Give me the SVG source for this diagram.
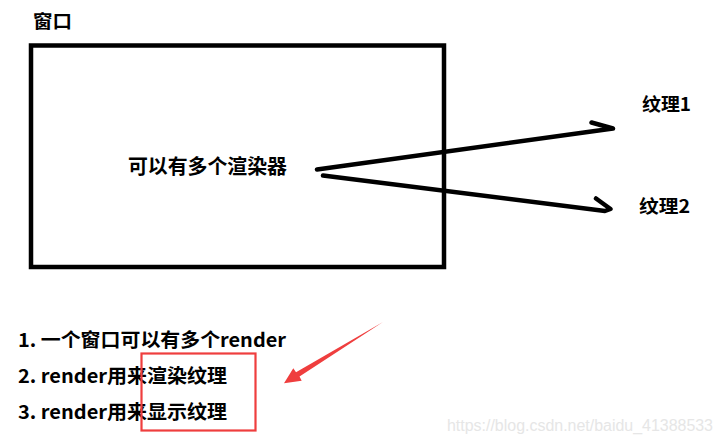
<svg xmlns="http://www.w3.org/2000/svg" width="722" height="443" viewBox="0 0 722 443">
<style>
.t{font-family:"Noto Sans CJK SC","Microsoft YaHei",sans-serif;font-weight:bold;fill:#000}
.ln{fill:none;stroke:#000;stroke-width:4.5;stroke-linecap:round;stroke-linejoin:round}
.wm{font-family:"Liberation Sans",Arial,sans-serif;fill:#e6e6e6;font-size:16px}
</style>
<rect width="722" height="443" fill="#fff"/>
<g id="title"><text class="t" x="33" y="28" font-size="18" textLength="39" lengthAdjust="spacingAndGlyphs">窗口</text></g>
<g id="window">
<rect x="31" y="45.5" width="413" height="221.5" fill="none" stroke="#000" stroke-width="4.5"/>
<text class="t" x="128" y="174" font-size="20" textLength="159" lengthAdjust="spacingAndGlyphs">可以有多个渲染器</text>
</g>
<g id="tex1"><text class="t" x="642" y="111" font-size="18" textLength="49" lengthAdjust="spacingAndGlyphs">纹理1</text></g>
<g id="tex2"><text class="t" x="639" y="213" font-size="18" textLength="51" lengthAdjust="spacingAndGlyphs">纹理2</text></g>
<g id="connectors">
<polyline class="ln" points="317,169.5 613,128.5 591.5,122.5"/>
<polyline class="ln" points="323,175.5 605,211 610.5,209 596,198.5"/>
</g>
<g id="notes">
<text class="t" x="18" y="347" font-size="19" textLength="268" lengthAdjust="spacingAndGlyphs">1. 一个窗口可以有多个render</text>
<text class="t" x="18" y="383" font-size="19" textLength="209" lengthAdjust="spacingAndGlyphs">2. render用来渲染纹理</text>
<text class="t" x="18" y="419" font-size="19" textLength="209" lengthAdjust="spacingAndGlyphs">3. render用来显示纹理</text>
</g>
<g id="highlight">
<rect x="141.5" y="353.5" width="114" height="77" fill="none" stroke="#ef3e3e" stroke-width="2.2"/>
<polygon points="383,322 299.5,376.5 301.7,380.7 284,383.3 293.3,368.3 296,372.3" fill="#ef3e3e"/>
</g>
<text class="wm" x="447" y="431" textLength="266" lengthAdjust="spacingAndGlyphs">https://blog.csdn.net/baidu_41388533</text>
</svg>
